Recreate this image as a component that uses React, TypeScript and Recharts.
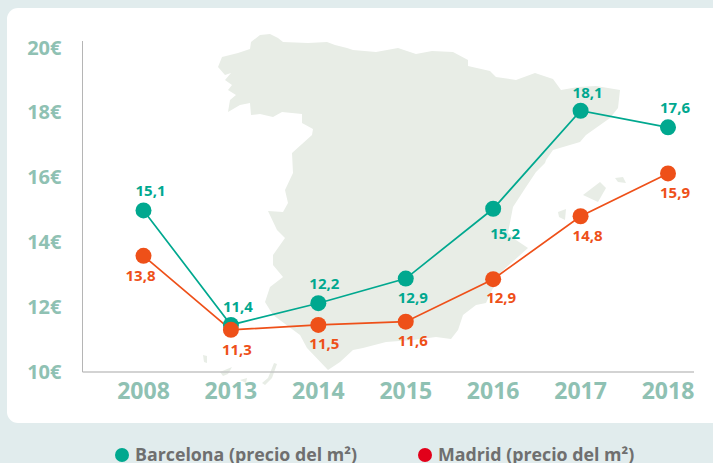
import React from 'react';
import { LineChart, Line, XAxis, YAxis, LabelList } from 'recharts';

const years = ['2008', '2013', '2014', '2015', '2016', '2017', '2018'];
const barcelona = [14.98, 11.45, 12.12, 12.88, 15.03, 18.05, 17.54];
const madrid = [13.58, 11.3, 11.45, 11.55, 12.86, 14.8, 16.12];
const barcelonaLabels = ['15,1', '11,4', '12,2', '12,9', '15,2', '18,1', '17,6'];
const madridLabels = ['13,8', '11,3', '11,5', '11,6', '12,9', '14,8', '15,9'];
const yTicks = [10, 12, 14, 16, 18, 20];

const barcelonaName = 'Barcelona (precio del m²)';
const madridName = 'Madrid (precio del m²)';

const barcelonaLabelDx = [7, 7, 6, 7, 12, 7, 7];
const barcelonaLabelDy = [-20, -19, -20, 18, 24, -19, -20];
const madridLabelDx = [-3, 6, 6, 7, 8, 7, 7];
const madridLabelDy = [19, 19, 18, 18, 18, 19, 19];

const rows = years.map((year, i) => ({ year, barcelona: barcelona[i], madrid: madrid[i] }));

const FONT = '"Open Sans", sans-serif';
const TEAL = '#00a88f';
const ORANGE = '#ee5019';
const TICK = '#8fc1b3';

const SPAIN =
  'M218 67 L222 57 L238 53 L250 49 L251 42 L260 35 L270 34 L278 38 L283 42 L308 43 L327 42 L335 45 L347 48 L353 50 L376 52 L398 48 L416 54 L432 51 L453 52 L468 60 L468 66 L490 71 L496 77 L516 80 L535 73 L553 79 L561 90 L578 87 L596 86 L620 90 L618 108 L610 118 L586 135 L580 142 L553 150 L546 160 L545 163 L536 172 L526 187 L513 207 L508 233 L516 240 L528 248 L500 273 L486 303 L476 305 L463 315 L458 330 L451 339 L436 337 L413 340 L386 342 L363 348 L353 350 L340 362 L328 370 L307 348 L300 335 L273 315 L265 302 L270 287 L283 277 L273 265 L273 255 L285 238 L277 230 L268 211 L283 212 L288 203 L285 190 L293 173 L292 153 L312 135 L313 129 L302 123 L302 114 L282 112 L273 117 L260 114 L251 115 L250 103 L240 105 L228 112 L230 100 L236 95 L228 90 L232 85 L225 80 L231 73 L225 75 Z';
const ISLANDS = [
  'M583 195 L600 182 L606 188 L598 202 Z',
  'M615 178 L623 177 L626 183 L618 182 Z',
  'M558 212 L566 209 L565 220 L559 217 Z',
  'M203 355 L207 356 L207 363 L204 362 Z',
  'M220 372 L232 367 L228 374 L223 376 Z',
  'M240 380 L247 378 L246 383 Z',
  'M262 383 L268 378 L274 363 L277 364 L272 378 L265 385 Z',
];

function makeLabel(texts: string[], dxs: number[], dys: number[], color: string) {
  return (props: any) => {
    const { x, y, index } = props;
    return (
      <text
        x={x + dxs[index]}
        y={y + dys[index]}
        textAnchor="middle"
        dominantBaseline="central"
        fill={color}
        style={{ fontFamily: FONT, fontWeight: 700, fontSize: 15 }}
      >
        {texts[index]}
      </text>
    );
  };
}

const legendText: React.CSSProperties = {
  position: 'absolute',
  top: 445,
  fontFamily: FONT,
  fontWeight: 700,
  fontSize: 17.8,
  lineHeight: '18px',
  color: '#6f6f6f',
  whiteSpace: 'nowrap',
};
const legendDot: React.CSSProperties = {
  position: 'absolute',
  top: 448,
  width: 14,
  height: 14,
  borderRadius: 7,
};

export default function App() {
  return (
    <div style={{ position: 'absolute', left: 0, top: 0, width: 713, height: 463, background: '#e1eced', overflow: 'hidden' }}>
      <div style={{ position: 'absolute', left: 7, top: 8, width: 720, height: 415, background: '#fff', borderRadius: 11 }} />
      <svg width={713} height={463} style={{ position: 'absolute', left: 0, top: 0 }}>
        <path d={SPAIN} fill="#e8ede6" />
        {ISLANDS.map((d) => (
          <path key={d} d={d} fill="#e8ede6" />
        ))}
      </svg>
      <div style={{ position: 'absolute', left: 0, top: 0 }}>
        <LineChart width={713} height={463} data={rows} margin={{ top: 41, right: 19, bottom: 61, left: 0 }}>
          <XAxis
            dataKey="year"
            height={30}
            padding={{ left: 61, right: 26 }}
            axisLine={{ stroke: '#c4c4c4', strokeWidth: 1.5 }}
            tickLine={false}
            tickMargin={5}
            interval={0}
            tick={{ fill: TICK, fontFamily: FONT, fontWeight: 700, fontSize: 23 }}
          />
          <YAxis
            width={82.5}
            domain={[10, 20.2]}
            ticks={yTicks}
            tickFormatter={(v: number) => `${v}€`}
            axisLine={{ stroke: '#b5b5b5', strokeWidth: 1 }}
            tickLine={false}
            tickMargin={15}
            interval={0}
            tick={{ fill: TICK, fontFamily: FONT, fontWeight: 700, fontSize: 20 }}
          />
          <Line
            dataKey="barcelona"
            name={barcelonaName}
            stroke={TEAL}
            strokeWidth={1.7}
            dot={{ r: 8, fill: TEAL, stroke: TEAL, strokeWidth: 0 }}
            isAnimationActive={false}
          >
            <LabelList content={makeLabel(barcelonaLabels, barcelonaLabelDx, barcelonaLabelDy, TEAL)} />
          </Line>
          <Line
            dataKey="madrid"
            name={madridName}
            stroke={ORANGE}
            strokeWidth={1.7}
            dot={{ r: 8, fill: ORANGE, stroke: ORANGE, strokeWidth: 0 }}
            isAnimationActive={false}
          >
            <LabelList content={makeLabel(madridLabels, madridLabelDx, madridLabelDy, ORANGE)} />
          </Line>
        </LineChart>
      </div>
      <div style={{ ...legendDot, left: 115, background: TEAL }} />
      <div style={{ ...legendText, left: 135 }}>{barcelonaName}</div>
      <div style={{ ...legendDot, left: 418, background: '#e2001a' }} />
      <div style={{ ...legendText, left: 438 }}>{madridName}</div>
    </div>
  );
}
